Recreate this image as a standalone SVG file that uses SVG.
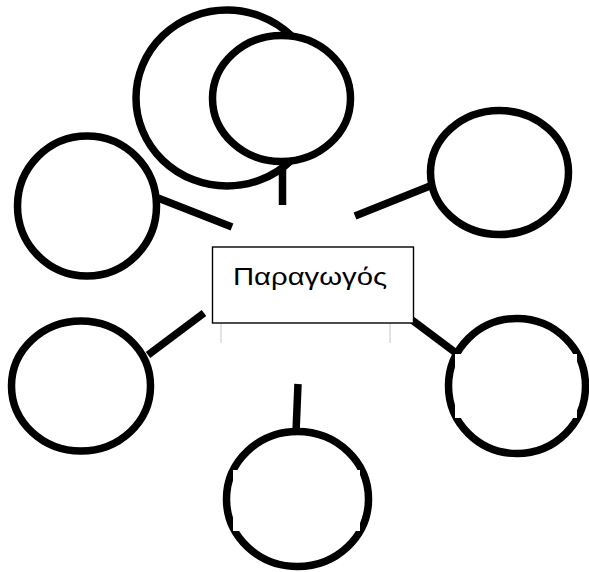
<svg xmlns="http://www.w3.org/2000/svg" width="589" height="572" viewBox="0 0 589 572">
<style>
.c{fill:#fff;stroke:#000;stroke-width:7.5}
.l{stroke:#000;stroke-width:7.5;fill:none}
.box{fill:#fff;stroke:#000;stroke-width:1.4}
.g{stroke:#d8d8d8;stroke-width:1.5}
.t{font-family:"Liberation Sans","DejaVu Sans",sans-serif;font-size:24px;fill:#000}
</style>
<rect width="589" height="572" fill="#fff"/>
<g id="connectors">
<line class="l" x1="282.5" y1="160" x2="282.5" y2="205"/>
<line class="l" x1="158" y1="198" x2="232" y2="227"/>
<line class="l" x1="355" y1="216" x2="430" y2="186"/>
<line class="l" x1="148" y1="355" x2="204" y2="313"/>
<line class="l" x1="412" y1="320" x2="456" y2="353"/>
<line class="l" x1="298" y1="384" x2="296" y2="432"/>
<line class="g" x1="221" y1="323" x2="221" y2="343"/>
<line class="g" x1="390" y1="323" x2="390" y2="343"/>
</g>
<g id="n-top-big"><ellipse class="c" cx="227" cy="98" rx="91" ry="88"/></g>
<g id="n-top-small"><ellipse class="c" cx="281.5" cy="98.5" rx="69" ry="63"/></g>
<g id="n-left-top"><ellipse class="c" cx="87" cy="206" rx="69.5" ry="70"/></g>
<g id="n-left-bottom"><ellipse class="c" cx="81" cy="386" rx="69.5" ry="65"/></g>
<g id="n-right-top"><ellipse class="c" cx="499.5" cy="172.5" rx="69" ry="62"/></g>
<g id="n-right-bottom"><ellipse class="c" cx="517" cy="386" rx="68.5" ry="67.5"/><rect x="455" y="354" width="122" height="64" fill="#fff"/></g>
<g id="n-bottom"><ellipse class="c" cx="297.5" cy="499" rx="71" ry="67.5"/><rect x="233" y="470" width="127" height="61" fill="#fff"/></g>
<g id="n-center"><rect class="box" x="212.5" y="247" width="201" height="76"/><text class="t" x="310" y="285" text-anchor="middle" textLength="154" lengthAdjust="spacingAndGlyphs">Παραγωγός</text></g>
</svg>
